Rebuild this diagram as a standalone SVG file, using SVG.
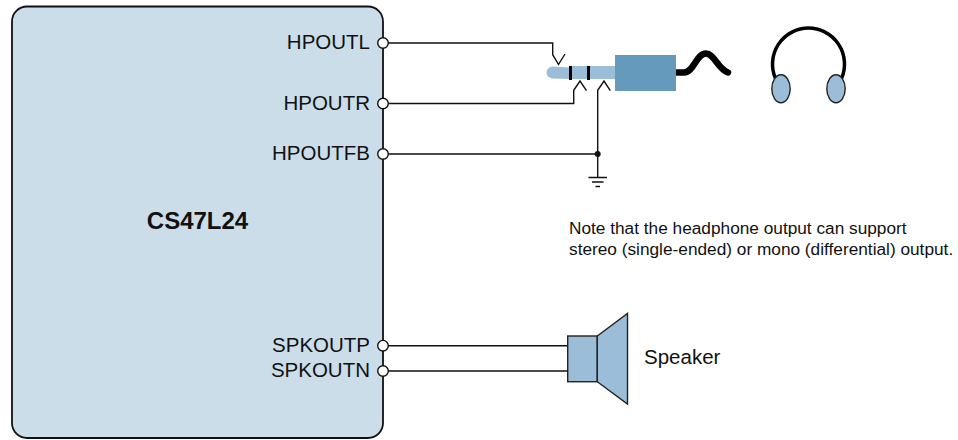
<svg xmlns="http://www.w3.org/2000/svg" width="958" height="440" viewBox="0 0 958 440">
<style>
text{font-family:"Liberation Sans",Arial,sans-serif;fill:#111}
.pin{font-size:20.5px;text-anchor:end}
.note{font-size:17.25px}
.w{fill:none;stroke:#111;stroke-width:1.4}
.p{fill:#fff;stroke:#111;stroke-width:1.4}
.b{fill:#9bbdd8;stroke:#222;stroke-width:1.4}
</style>
<rect width="958" height="440" fill="#fff"/>
<g id="connectors">
<path class="w" d="M388 43H552.7V54.7L558.5 64.5L565 54"/>
<path class="w" d="M388 103.5H573.7V90.3L580 81L586.5 90.7"/>
<path class="w" d="M388 154H597.7"/>
<path class="w" d="M597.7 177.5V90.3L604 81L610.3 90.7"/>
<path class="w" d="M388 345.7H568"/>
<path class="w" d="M388 371H568"/>
<circle cx="597.7" cy="154" r="3" fill="#111"/>
</g>
<g id="chip">
<rect x="12" y="6.500" width="371" height="431.500" rx="15" fill="#cbdde9" stroke="#111" stroke-width="1.800"/>
<text x="197.500" y="229" font-size="24" font-weight="700" text-anchor="middle">CS47L24</text>
</g>
<g id="pin-hpoutl"><circle class="p" cx="383" cy="43" r="5.300"/><text class="pin" x="370" y="49">HPOUTL</text></g>
<g id="pin-hpoutr"><circle class="p" cx="383" cy="103.500" r="5.300"/><text class="pin" x="370" y="110">HPOUTR</text></g>
<g id="pin-hpoutfb"><circle class="p" cx="383" cy="154" r="5.300"/><text class="pin" x="370" y="160">HPOUTFB</text></g>
<g id="pin-spkoutp"><circle class="p" cx="383" cy="345.700" r="5.300"/><text class="pin" x="370" y="352">SPKOUTP</text></g>
<g id="pin-spkoutn"><circle class="p" cx="383" cy="371" r="5.300"/><text class="pin" x="370" y="377">SPKOUTN</text></g>
<g id="jack">
<path d="M615 66V79H569L552 78.500Q546.500 77 546.500 72.500Q546.500 68 552 66.500L569 67.500V66Z" fill="#9bbdd8"/>
<rect x="569" y="66" width="3" height="14" fill="#000"/>
<rect x="587" y="66" width="3" height="14" fill="#000"/>
<path d="M676 72.500H684C694 72.500 696 53.500 706 53.500C714 53.500 718 69 728 72.500" fill="none" stroke="#000" stroke-width="6.500" stroke-linecap="round"/>
<rect x="615" y="55" width="61" height="36" fill="#659abd"/>
</g>
<g id="ground">
<path class="w" d="M588.500 177.500H607M592 182H603.500M595.500 186.500H600"/>
</g>
<g id="headphones">
<path d="M775.300 78A36 36 0 1 1 841.700 78" fill="none" stroke="#000" stroke-width="3.500"/>
<ellipse class="b" cx="781" cy="88.700" rx="9.200" ry="14"/>
<ellipse class="b" cx="836" cy="88.700" rx="9.200" ry="14"/>
</g>
<g id="speaker">
<rect class="b" x="567.700" y="336" width="29.600" height="45.700"/>
<path class="b" d="M597.300 336L627.500 313.500V404L597.300 381.700Z"/>
<text x="644" y="364" font-size="20.500">Speaker</text>
</g>
<g id="note">
<text class="note" x="569" y="234">Note that the headphone output can support</text>
<text class="note" x="569" y="255">stereo (single-ended) or mono (differential) output.</text>
</g>
</svg>
